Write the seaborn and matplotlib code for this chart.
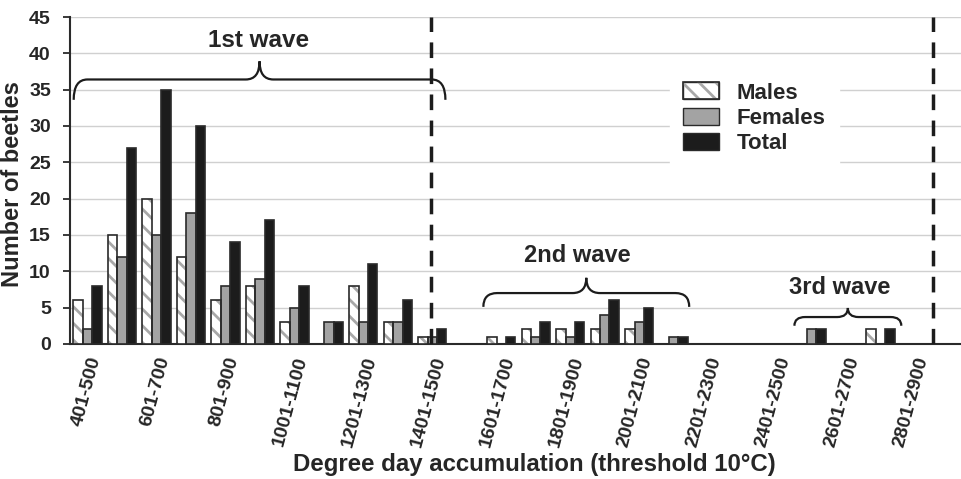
import numpy as np
import pandas as pd
import matplotlib
matplotlib.use('Agg')
import matplotlib.pyplot as plt
from matplotlib.patches import Patch, Rectangle, PathPatch
from matplotlib.path import Path
import seaborn as sns

categories = [f'{401 + 100 * i}-{500 + 100 * i}' for i in range(25)]
males = [6, 15, 20, 12, 6, 8, 3, 0, 8, 3, 1, 0, 1, 2, 2, 2, 2, 0, 0, 0, 0, 0, 0, 2, 0]
females = [2, 12, 15, 18, 8, 9, 5, 3, 3, 3, 1, 0, 0, 1, 1, 4, 3, 1, 0, 0, 0, 2, 0, 0, 0]
total = [8, 27, 35, 30, 14, 17, 8, 3, 11, 6, 2, 0, 1, 3, 3, 6, 5, 1, 0, 0, 0, 2, 0, 2, 0]

df = pd.DataFrame({'range': categories * 3,
                   'sex': ['Males'] * 25 + ['Females'] * 25 + ['Total'] * 25,
                   'count': males + females + total})

sns.set_style('white')
plt.rcParams['font.family'] = ['Liberation Sans', 'DejaVu Sans']
plt.rcParams['font.weight'] = 'bold'
plt.rcParams['hatch.linewidth'] = 2.0

fig = plt.figure(figsize=(9.62, 4.79), dpi=100)
ax = fig.add_axes([0.073, 0.282, 0.927, 0.6825])

edge = '#2a2a2a'
hatch_col = '#a8a8a8'
palette = {'Males': 'white', 'Females': '#a3a3a3', 'Total': '#1c1c1c'}
sns.barplot(data=df, x='range', y='count', hue='sex', palette=palette,
            width=0.82, edgecolor=edge, linewidth=1.2, ax=ax, legend=False,
            zorder=3)

# males bars: light grey hatch, then a dark outline on top
for p in ax.containers[0]:
    p.set_hatch('\\\\')
    p.set_edgecolor(hatch_col)
    p.set_linewidth(0)
    ax.add_patch(Rectangle(p.get_xy(), p.get_width(), p.get_height(), fill=False,
                           edgecolor=edge, linewidth=1.2, zorder=3.5))

ax.set_ylim(0, 45)
ax.set_xlim(-0.5, 25.36)
ax.set_yticks(range(0, 46, 5))
ax.yaxis.grid(True, color='#d0d0d0', linewidth=1, zorder=0)
ax.set_axisbelow(True)
for s in ['top', 'right']:
    ax.spines[s].set_visible(False)
for s in ['left', 'bottom']:
    ax.spines[s].set_color(edge)
    ax.spines[s].set_linewidth(1.5)

labels = [c if i % 2 == 0 else '' for i, c in enumerate(categories)]
ax.set_xticks(range(25))
ax.set_xticklabels(labels, rotation=75, ha='right', rotation_mode='anchor',
                   fontsize=14, fontweight='bold')
ax.tick_params(axis='x', which='major', length=0, pad=8)
ax.set_xticks(np.arange(-0.5, 25, 1), minor=True)
ax.tick_params(axis='x', which='minor', length=5, width=1.3, color=edge, direction='out')
ax.tick_params(axis='y', labelsize=14, length=5, width=1.3, color=edge, direction='out', pad=9)
ax.yaxis.set_ticks_position('left')
for t in ax.get_yticklabels():
    t.set_fontweight('bold')

ax.set_xlabel('Degree day accumulation (threshold 10°C)', fontsize=17.3, fontweight='bold')
ax.xaxis.set_label_coords(0.521, -0.333)
ax.set_ylabel('Number of beetles', fontsize=17, fontweight='bold')
ax.yaxis.set_label_coords(-0.052, 0.49)

# dashed wave boundaries
for xv in [9.95, 24.52]:
    ax.axvline(xv, color='#1c1c1c', linestyle=(0, (4.5, 3)), linewidth=2.5, zorder=4)


def brace(ax, x0, x1, y_end, y_mid, y_tip):
    xm = (x0 + x1) / 2
    r = min(0.4, (x1 - x0) * 0.1)
    codes = [Path.MOVETO, Path.CURVE3, Path.CURVE3, Path.LINETO, Path.CURVE3, Path.CURVE3,
             Path.MOVETO, Path.CURVE3, Path.CURVE3, Path.LINETO, Path.CURVE3, Path.CURVE3]
    verts = [(x0, y_end), (x0, y_mid), (x0 + r, y_mid),
             (xm - r, y_mid), (xm, y_mid), (xm, y_tip),
             (xm, y_tip), (xm, y_mid), (xm + r, y_mid),
             (x1 - r, y_mid), (x1, y_mid), (x1, y_end)]
    ax.add_patch(PathPatch(Path(verts, codes), fill=False, lw=1.6, color='#1c1c1c', zorder=5))


brace(ax, -0.4, 10.38, 33.6, 36.4, 38.9)
ax.text(4.96, 41.7, '1st wave', ha='center', va='center', fontsize=17.5, fontweight='bold')
brace(ax, 11.48, 17.45, 5.1, 7.0, 9.1)
ax.text(14.2, 12.2, '2nd wave', ha='center', va='center', fontsize=17, fontweight='bold')
brace(ax, 20.5, 23.6, 2.5, 3.7, 4.95)
ax.text(21.8, 7.8, '3rd wave', ha='center', va='center', fontsize=17, fontweight='bold')

handles = [Patch(facecolor='white', edgecolor=edge, label='Males'),
           Patch(facecolor='#a3a3a3', edgecolor=edge, label='Females'),
           Patch(facecolor='#1c1c1c', edgecolor=edge, label='Total')]
leg = ax.legend(handles=handles, loc='upper left', bbox_to_anchor=(0.66, 0.875),
                frameon=True, fontsize=16, handlelength=1.6, handleheight=0.8,
                handletextpad=0.8, labelspacing=0.18, borderpad=0.6)
leg.get_frame().set_edgecolor('white')
leg.get_frame().set_facecolor('white')
leg.get_frame().set_alpha(1)
for t in leg.get_texts():
    t.set_fontweight('bold')
# hatch the males legend key with the same light stripes
mk = leg.legend_handles[0]
fig.canvas.draw()
bb = mk.get_window_extent()
inv = fig.transFigure.inverted()
(fx0, fy0), (fx1, fy1) = inv.transform([(bb.x0, bb.y0), (bb.x1, bb.y1)])
fig.add_artist(Rectangle((fx0, fy0), fx1 - fx0, fy1 - fy0, transform=fig.transFigure,
                         facecolor='none', edgecolor=hatch_col, hatch='\\\\', linewidth=0, zorder=10))
fig.add_artist(Rectangle((fx0, fy0), fx1 - fx0, fy1 - fy0, transform=fig.transFigure,
                         fill=False, edgecolor=edge, linewidth=1.2, zorder=11))

fig.savefig('out.png', dpi=100)
